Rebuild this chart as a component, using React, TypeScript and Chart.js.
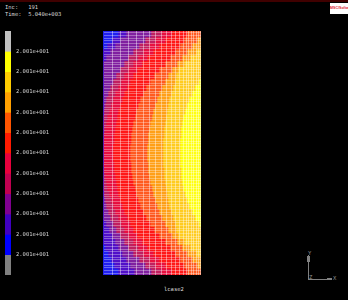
import React, { useEffect, useRef } from "react";
import { Chart, registerables } from "chart.js";

Chart.register(...registerables);

// Mesh rows from top to bottom (image-height coordinate of each row centre)
const rowCentres = [34,40,46,52,58,64,70,76,82,88,94,100,106,112,118,124,130,136,142,148,154,160,166,172,178,184,190,196,202,208,214,220,226,232,238,244,250,256,262,268,274];

// Contour boundaries: position along the width of the part for every row
const leftEdge = [103,103,103,103,103,103,103,103,103,103,103,103,103,103,103,103,103,103,103,103,103,103,103,103,103,103,103,103,103,103,103,103,103,103,103,103,103,103,103,103,103];
const boundaryBlue = [118,112,107,103,103,103,103,103,103,103,103,103,103,103,103,103,103,103,103,103,103,103,103,103,103,103,103,103,103,103,103,103,103,103,103,103,105,108,111,114,118];
const boundaryIndigo = [126,120,115,110,106,103,103,103,103,103,103,103,103,103,103,103,103,103,103,103,103,103,103,103,103,103,103,103,103,103,103,103,106,109,112,115,118,122,126,130,134];
const boundaryPurple = [151,145,139,133,128,124,120,116,113,110,108,106,105,104,103,103,103,103,103,103,103,103,103,103,103,103,103,104,105,106,108,110,113,116,120,124,128,133,139,145,151];
const boundaryCrimson = [161,155,149,143,138,133,128,124,121,118,115,113,111,109,107,106,105,104,103,103,103,103,103,104,105,106,107,109,111,113,115,118,121,124,128,133,138,143,149,155,161];
const boundaryRose = [171,165,159,153,147,142,137,133,130,127,124,122,120,118,117,116,115,114,114,113,113,113,114,114,115,116,117,118,120,122,124,127,130,133,137,142,147,153,159,165,171];
const boundaryRed = [187,184,180,175,170,165,159,154,150,146,143,140,138,136,135,133,132,131,131,130,130,130,131,131,132,133,135,136,138,140,143,146,150,154,159,165,170,175,180,184,187];
const boundaryOrangeRed = [201,197,192,187,182,177,172,168,165,162,159,157,155,153,152,150,149,148,148,147,147,147,148,148,149,150,152,153,155,157,159,162,165,168,172,177,182,187,192,197,201];
const boundaryOrange = [201,201,201,196,190,184,178,176,175,173,171,169,168,167,166,165,164,164,163,163,163,163,163,164,164,165,166,167,168,169,171,173,175,176,178,184,190,196,201,201,201];
const boundaryAmber = [201,201,201,201,201,201,201,201,199,195,192,189,187,185,183,182,181,181,180,180,180,180,180,181,181,182,183,185,187,189,192,195,199,201,201,201,201,201,201,201,201];
const rightEdge = [201,201,201,201,201,201,201,201,201,201,201,201,201,201,201,201,201,201,201,201,201,201,201,201,201,201,201,201,201,201,201,201,201,201,201,201,201,201,201,201,201];

const boundaries = [leftEdge, boundaryBlue, boundaryIndigo, boundaryPurple, boundaryCrimson, boundaryRose, boundaryRed, boundaryOrangeRed, boundaryOrange, boundaryAmber, rightEdge];
const bandColours = ["#2020f0", "#5010c8", "#8020a0", "#c02060", "#e81040", "#ff1818", "#ff5a20", "#ffa018", "#ffcc20", "#ffff10"];

// Mesh lines
const meshColumns = [112,120,128,136,143,149,155,161,166,171,175,179,183,186,188,191,193,196,198,200];
const meshRows = [33,36,38,41,44,46,49,52,54,57,60,62,65,68,70,73,76,78,81,84,86,89,92,94,97,100,102,105,108,110,113,116,118,121,124,126,129,132,134,137,140,142,145,148,150,153,156,158,161,164,166,169,172,174,177,180,182,185,188,190,193,196,198,201,204,206,209,212,214,217,220,222,225,228,230,233,236,238,241,244,246,249,252,254,257,260,262,265,268,270,273];

// Colour legend, top to bottom
const legendColours = ["#c0c0c0","#ffff00","#ffcc00","#ffa000","#ff5500","#ff1a00","#e8003c","#c00050","#800090","#4000c0","#0000ff","#808080"];
const legendLabels = ["2.001e+001","2.001e+001","2.001e+001","2.001e+001","2.001e+001","2.001e+001","2.001e+001","2.001e+001","2.001e+001","2.001e+001","2.001e+001"];
const legendSegment = [1];

const incLine = "Inc:   191";
const timeLine = "Time:  5.040e+003";
const caseName = "lcase2";

const mono = '"DejaVu Sans Mono", monospace';

const textStyle = (left: number, top: number, color = "#d8d8d8"): React.CSSProperties => ({
  position: "absolute",
  left,
  top,
  font: `5.5px/6px ${mono}`,
  color,
  whiteSpace: "pre",
});

const lineStyle = (left: number, top: number, width: number, height: number): React.CSSProperties => ({
  position: "absolute",
  left,
  top,
  width,
  height,
  background: "#808080",
});

export default function App() {
  const plotRef = useRef<HTMLCanvasElement>(null);
  const legendRef = useRef<HTMLCanvasElement>(null);

  useEffect(() => {
    const plot = new Chart(plotRef.current!, {
      type: "bar",
      data: {
        labels: rowCentres.map(String),
        datasets: bandColours.map((colour, b) => ({
          data: rowCentres.map((_, r) => [boundaries[b][r], boundaries[b + 1][r]]),
          backgroundColor: colour,
          borderWidth: 0,
          grouped: false,
          barPercentage: 1,
          categoryPercentage: 1,
          yAxisID: "y",
          xAxisID: "x",
        })),
      } as any,
      options: {
        indexAxis: "y",
        animation: false,
        responsive: false,
        layout: { padding: 0 },
        plugins: { legend: { display: false }, tooltip: { enabled: false } },
        scales: {
          x: {
            type: "linear",
            min: 103,
            max: 201,
            afterFit: (s: any) => { s.height = 0; },
            afterBuildTicks: (s: any) => { s.ticks = meshColumns.map((value) => ({ value })); },
            ticks: { display: false },
            grid: { color: "rgba(255,255,255,0.42)", lineWidth: 1, z: 1, drawTicks: false },
            border: { display: false },
          },
          y: { type: "category", display: false, reverse: false },
          mesh: {
            type: "linear",
            axis: "y",
            position: "left",
            reverse: true,
            min: 31,
            max: 275,
            afterFit: (s: any) => { s.width = 0; },
            afterBuildTicks: (s: any) => { s.ticks = meshRows.map((value) => ({ value })); },
            ticks: { display: false },
            grid: { color: "rgba(255,255,255,0.32)", lineWidth: 1, z: 1, drawTicks: false },
            border: { display: true, color: "#777", width: 1 },
          },
        },
      } as any,
    });

    const legend = new Chart(legendRef.current!, {
      type: "bar",
      data: {
        labels: [""],
        datasets: legendColours.map((colour) => ({
          data: legendSegment,
          backgroundColor: colour,
          borderWidth: 0,
          barPercentage: 1,
          categoryPercentage: 1,
        })),
      },
      options: {
        animation: false,
        responsive: false,
        layout: { padding: { left: 5 } },
        plugins: { legend: { display: false }, tooltip: { enabled: false } },
        scales: {
          x: { stacked: true, display: false },
          y: {
            stacked: true,
            reverse: true,
            position: "right",
            min: 0,
            max: legendColours.length,
            afterFit: (s: any) => { s.width = 49; s.paddingTop = 0; s.paddingBottom = 0; },
            afterBuildTicks: (s: any) => { s.ticks = legendLabels.map((_, i) => ({ value: i + 1 })); },
            grid: { display: false, drawTicks: false },
            border: { display: false },
            ticks: {
              autoSkip: false,
              padding: 5,
              color: "#d0d0d0",
              font: { family: "DejaVu Sans Mono", size: 5.5 },
              callback: (_v: any, i: number) => legendLabels[i],
            },
          },
        },
      } as any,
    });

    return () => {
      plot.destroy();
      legend.destroy();
    };
  }, []);

  return (
    <div style={{ position: "fixed", left: 0, top: 0, width: 348, height: 300, background: "#000", overflow: "hidden" }}>
      <div style={{ position: "absolute", left: 0, top: 0, width: 348, height: 2, background: "#400000" }} />
      <div style={textStyle(5, 4)}>{incLine}</div>
      <div style={textStyle(5, 11)}>{timeLine}</div>
      <canvas ref={legendRef} width={60} height={244} style={{ position: "absolute", left: 0, top: 31 }} />
      <canvas ref={plotRef} width={98} height={244} style={{ position: "absolute", left: 103, top: 31 }} />
      <div style={textStyle(164, 286)}>{caseName}</div>
      <div style={{ position: "absolute", left: 330, top: 3, width: 18, height: 11, background: "#fff", color: "#e02030", font: `bold 3.6px/11px "Liberation Sans", sans-serif`, whiteSpace: "pre", overflow: "hidden" }}>MSC/Software</div>
      <div style={lineStyle(308, 255, 1, 24)} />
      <div style={lineStyle(307, 256, 3, 6)} />
      <div style={lineStyle(308, 279, 24, 1)} />
      <div style={lineStyle(327, 278, 5, 2)} />
      <div style={textStyle(308, 250, "#909090")}>Y</div>
      <div style={textStyle(333, 275, "#909090")}>X</div>
      <div style={textStyle(309, 274, "#909090")}>Z</div>
    </div>
  );
}
